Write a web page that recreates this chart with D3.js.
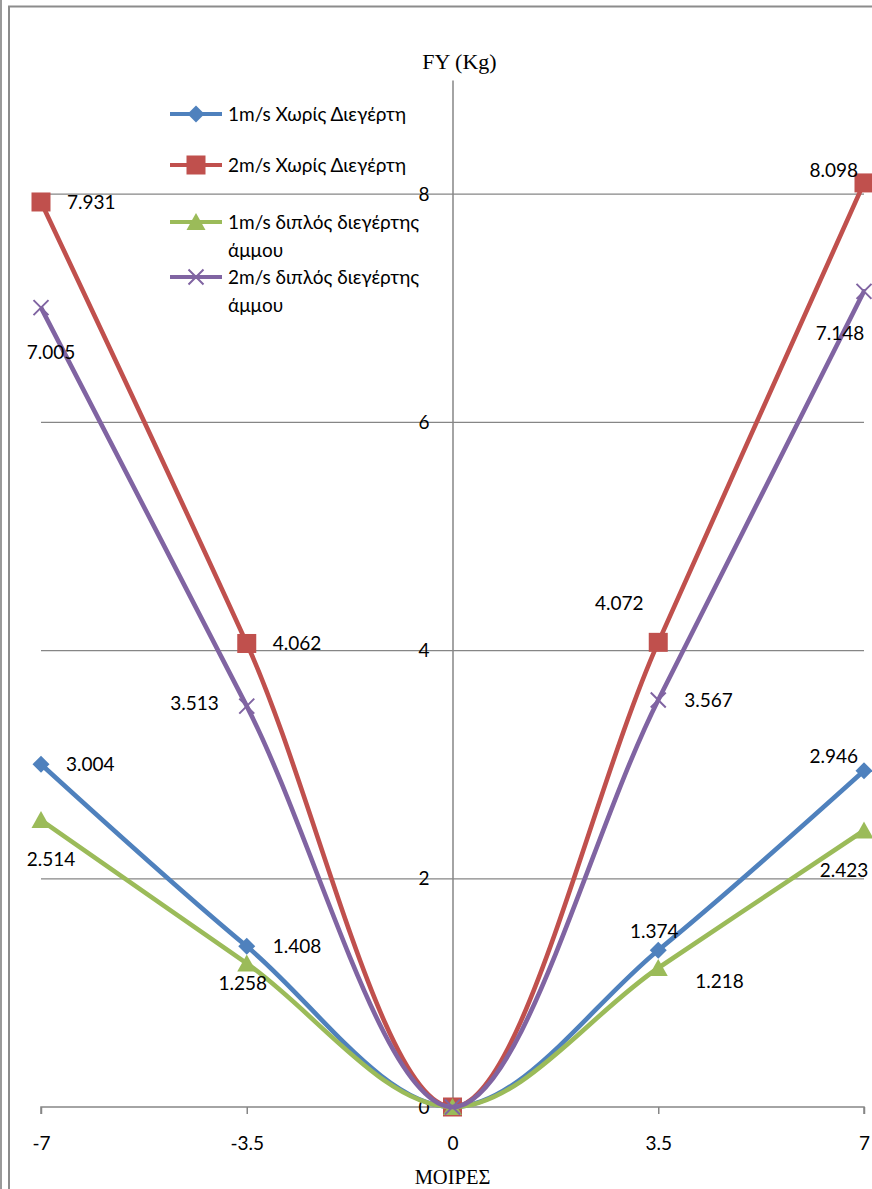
<!DOCTYPE html>
<html>
<head>
<meta charset="utf-8">
<script src="https://cdn.jsdelivr.net/npm/d3@7"></script>
<style>
  html, body { margin: 0; padding: 0; background: #fff; }
  svg { display: block; }
</style>
</head>
<body>
<script>
// Angle (degrees) against lateral force FY (Kg)
const angles = [-7, -3.5, 0, 3.5, 7];
const xTicks = [-7, -3.5, 0, 3.5, 7];
const yTicks = [0, 2, 4, 6, 8];

const seriesNames = [
  ["1m/s Χωρίς Διεγέρτη"],
  ["2m/s Χωρίς Διεγέρτη"],
  ["1m/s διπλός διεγέρτης", "άμμου"],
  ["2m/s διπλός διεγέρτης", "άμμου"]
];
const blueValues   = [3.004, 1.408, 0, 1.374, 2.946];
const redValues    = [7.931, 4.062, 0, 4.072, 8.098];
const greenValues  = [2.514, 1.258, 0, 1.218, 2.423];
const purpleValues = [7.005, 3.513, 0, 3.567, 7.148];

const colors  = ["#4F81BD", "#C0504D", "#9BBB59", "#8064A2"];
const markers = ["diamond", "square", "triangle", "cross"];

// data-label placement per point: [dx, dy, anchor] (null = no label)
const labelPlacement = [
  [[25, 0, "start"], [26, 0, "start"], null, [-4, -19, "middle"], [-6, -14, "end"]],
  [[26, 0, "start"], [26, 0, "start"], null, [-39, -39, "middle"], [-6, -13, "end"]],
  [[10, 39, "middle"], [-4, 20, "middle"], null, [37, 13, "start"], [-20, 40, "middle"]],
  [[10, 45, "middle"], [-28, -3, "end"], null, [26, 0, "start"], [-24, 42, "middle"]]
];

const allValues = [blueValues, redValues, greenValues, purpleValues];

const W = 872, H = 1189;
const svg = d3.select("body").append("svg").attr("width", W).attr("height", H);
const sansFont = "Lato, 'Open Sans', sans-serif";
const serifFont = "'Liberation Serif', 'DejaVu Serif', serif";
const fs = 19;

// outer frame
svg.append("line").attr("x1", 1).attr("x2", 1).attr("y1", 0).attr("y2", H)
  .attr("stroke", "#9a9a9a").attr("stroke-width", 2);
svg.append("path").attr("d", `M9,${H} V6.5 H${W}`)
  .attr("fill", "none").attr("stroke", "#8c8c8c").attr("stroke-width", 2);

const x = d3.scaleLinear().domain([-7, 7]).range([41, 864]);
const y = d3.scaleLinear().domain([0, 9]).range([1107, 80]);

// horizontal gridlines
svg.append("g").selectAll("line").data(yTicks.filter(d => d > 0)).join("line")
  .attr("x1", x(-7)).attr("x2", x(7))
  .attr("y1", d => y(d)).attr("y2", d => y(d))
  .attr("stroke", "#868686").attr("stroke-width", 1.3);

// x axis
const xAxis = svg.append("g").attr("transform", `translate(0,${y(0)})`)
  .call(d3.axisBottom(x).tickValues(xTicks).tickSize(7).tickPadding(23)
    .tickFormat(d => String(d)));
xAxis.select(".domain").attr("stroke", "#868686").attr("stroke-width", 1.5)
  .attr("d", `M${x(-7)},7V0H${x(7)}V7`);
xAxis.selectAll(".tick line").attr("stroke", "#868686").attr("stroke-width", 1.5);
xAxis.selectAll(".tick text").attr("font-family", sansFont).attr("font-size", fs)
  .attr("fill", "#000");

// y axis through x = 0
const yAxis = svg.append("g").attr("transform", `translate(${x(0)},0)`)
  .call(d3.axisLeft(y).tickValues(yTicks).tickSize(0).tickPadding(23));
yAxis.select(".domain").attr("stroke", "#868686").attr("stroke-width", 1.5);
yAxis.selectAll(".tick text").attr("font-family", sansFont).attr("font-size", fs)
  .attr("fill", "#000").attr("dy", "0.32em");

// axis titles
svg.append("text").attr("x", x(0) + 7).attr("y", 69).attr("text-anchor", "middle")
  .attr("font-family", serifFont).attr("font-size", 22).text("FY (Kg)");
svg.append("text").attr("x", x(0)).attr("y", 1184).attr("text-anchor", "middle")
  .attr("font-family", serifFont).attr("font-size", 20.5).text("ΜΟΙΡΕΣ");

// smoothed series lines
const line = d3.line().x(d => x(d[0])).y(d => y(d[1])).curve(d3.curveCatmullRom.alpha(0.5));

function drawMarker(g, type, color, cx, cy) {
  if (type === "diamond") {
    const s = 8.5;
    g.append("path").attr("d", `M${cx},${cy - s}L${cx + s},${cy}L${cx},${cy + s}L${cx - s},${cy}Z`)
      .attr("fill", color);
  } else if (type === "square") {
    g.append("rect").attr("x", cx - 9.5).attr("y", cy - 9.5).attr("width", 19).attr("height", 19)
      .attr("fill", color);
  } else if (type === "triangle") {
    g.append("path").attr("d", `M${cx},${cy - 9}L${cx + 9.5},${cy + 8}L${cx - 9.5},${cy + 8}Z`)
      .attr("fill", color);
  } else {
    const s = 7.5;
    g.append("path").attr("d", `M${cx - s},${cy - s}L${cx + s},${cy + s}M${cx + s},${cy - s}L${cx - s},${cy + s}`)
      .attr("stroke", color).attr("stroke-width", 2).attr("fill", "none");
  }
}

allValues.forEach((vals, i) => {
  const pts = angles.map((a, j) => [a, vals[j]]);
  const g = svg.append("g");
  g.append("path").attr("d", line(pts)).attr("fill", "none")
    .attr("stroke", colors[i]).attr("stroke-width", 4.6).attr("stroke-linejoin", "round");
  pts.forEach(p => drawMarker(g, markers[i], colors[i], x(p[0]), y(p[1])));
});

// data labels
allValues.forEach((vals, i) => {
  vals.forEach((v, j) => {
    const pl = labelPlacement[i][j];
    if (!pl) return;
    svg.append("text")
      .attr("x", x(angles[j]) + pl[0]).attr("y", y(v) + pl[1])
      .attr("dy", "0.35em").attr("text-anchor", pl[2])
      .attr("font-family", sansFont).attr("font-size", fs).attr("fill", "#000")
      .text(v.toFixed(3));
  });
});

// legend
const legendRows = [114, 165, 222, 277];
seriesNames.forEach((name, i) => {
  const g = svg.append("g");
  const ly = legendRows[i];
  g.append("line").attr("x1", 170).attr("x2", 222).attr("y1", ly).attr("y2", ly)
    .attr("stroke", colors[i]).attr("stroke-width", 4);
  drawMarker(g, markers[i], colors[i], 196, ly);
  name.forEach((t, k) => {
    g.append("text").attr("x", 228).attr("y", ly + k * 28).attr("dy", "0.35em")
      .attr("font-family", sansFont).attr("font-size", fs).attr("fill", "#000").text(t);
  });
});
</script>
</body>
</html>
